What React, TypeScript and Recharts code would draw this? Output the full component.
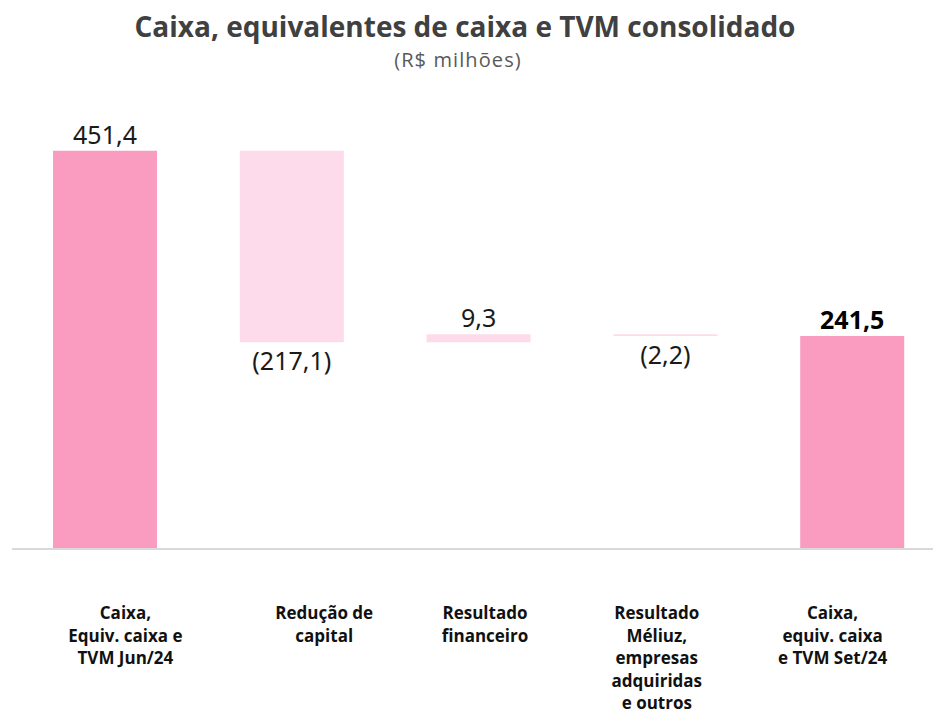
import React from "react";
import { ComposedChart, Bar, XAxis, YAxis, Cell, LabelList } from "recharts";

// valores em R$ milhões
const categories = [
  ["Caixa,", "Equiv. caixa e", "TVM Jun/24"],
  ["Redução de", "capital"],
  ["Resultado", "financeiro"],
  ["Resultado", "Méliuz,", "empresas", "adquiridas", "e outros"],
  ["Caixa,", "equiv. caixa", "e TVM Set/24"],
];
const deltas = [451.4, -217.1, 9.3, -2.2, 241.5];
const isTotal = [true, false, false, false, true];

const MAIN = "#f99cbf";
const LIGHT = "#fddbea";
// deslocamento horizontal das caixas de texto do eixo (como no slide)
const tickShift = [20, 32, 6, -9, -20];

let running = 0;
const data = deltas.map((d, i) => {
  let base = 0;
  let size = d;
  if (isTotal[i]) {
    running = d;
  } else if (d >= 0) {
    base = running;
    running += d;
  } else {
    running += d;
    base = running;
    size = -d;
  }
  return { name: i, base, size, delta: d, total: isTotal[i] };
});

const fmt = (v: number) => {
  const s = Math.abs(v).toFixed(1).replace(".", ",");
  return v < 0 ? `(${s})` : s;
};

const ValueLabel = (props: any) => {
  const { x, y, width, height, index } = props;
  const row = data[index];
  const cx = x + width / 2;
  const cy = row.delta < 0 ? y + height + 18 : y - 17;
  return (
    <text
      x={cx}
      y={cy}
      textAnchor="middle"
      dominantBaseline="central"
      fontFamily="Noto Sans"
      fontSize={25}
      fontWeight={index === data.length - 1 ? 700 : 400}
      fill={index === data.length - 1 ? "#000" : "#1a1a1a"}
    >
      {fmt(row.delta)}
    </text>
  );
};

const CategoryTick = (props: any) => {
  const { x, y, index } = props;
  const lines = categories[index] || [];
  const cx = x + tickShift[index];
  return (
    <text
      x={cx}
      y={y + 70}
      textAnchor="middle"
      fontFamily="Open Sans"
      fontWeight={700}
      fontSize={17}
      fill="#111"
    >
      {lines.map((l, i) => (
        <tspan key={i} x={cx} dy={i === 0 ? 0 : 22.5}>
          {l}
        </tspan>
      ))}
    </text>
  );
};

export default function App() {
  return (
    <div
      style={{
        position: "absolute",
        left: 0,
        top: 0,
        width: 933,
        height: 715,
        overflow: "hidden",
        background: "#fff",
      }}
    >
      <div
        style={{
          position: "absolute",
          top: 8,
          left: 0,
          width: 930,
          textAlign: "center",
          fontFamily: "Open Sans",
          fontWeight: 700,
          fontSize: 28,
          lineHeight: "36px",
          color: "#404040",
          whiteSpace: "nowrap",
        }}
      >
        Caixa, equivalentes de caixa e TVM consolidado
      </div>
      <div
        style={{
          position: "absolute",
          top: 46,
          left: 0,
          width: 916,
          textAlign: "center",
          fontFamily: "Open Sans",
          fontWeight: 400,
          fontSize: 20,
          letterSpacing: 1.1,
          lineHeight: "28px",
          color: "#595959",
        }}
      >
        (R$ milhões)
      </div>
      <ComposedChart
        width={946}
        height={715}
        data={data}
        margin={{ top: 108, right: 0, left: 12, bottom: 0 }}
        style={{ position: "absolute", left: 0, top: 0 }}
      >
        <XAxis
          dataKey="name"
          height={166}
          interval={0}
          tickLine={false}
          tickSize={0}
          tickMargin={0}
          axisLine={{ stroke: "#d9d9d9", strokeWidth: 2 }}
          tick={<CategoryTick />}
        />
        <YAxis hide domain={[0, 500]} />
        <Bar dataKey="base" stackId="w" fill="transparent" barSize={104} isAnimationActive={false} />
        <Bar dataKey="size" stackId="w" barSize={104} isAnimationActive={false}>
          {data.map((d, i) => (
            <Cell key={i} fill={d.total ? MAIN : LIGHT} />
          ))}
          <LabelList dataKey="size" content={<ValueLabel />} />
        </Bar>
      </ComposedChart>
    </div>
  );
}
